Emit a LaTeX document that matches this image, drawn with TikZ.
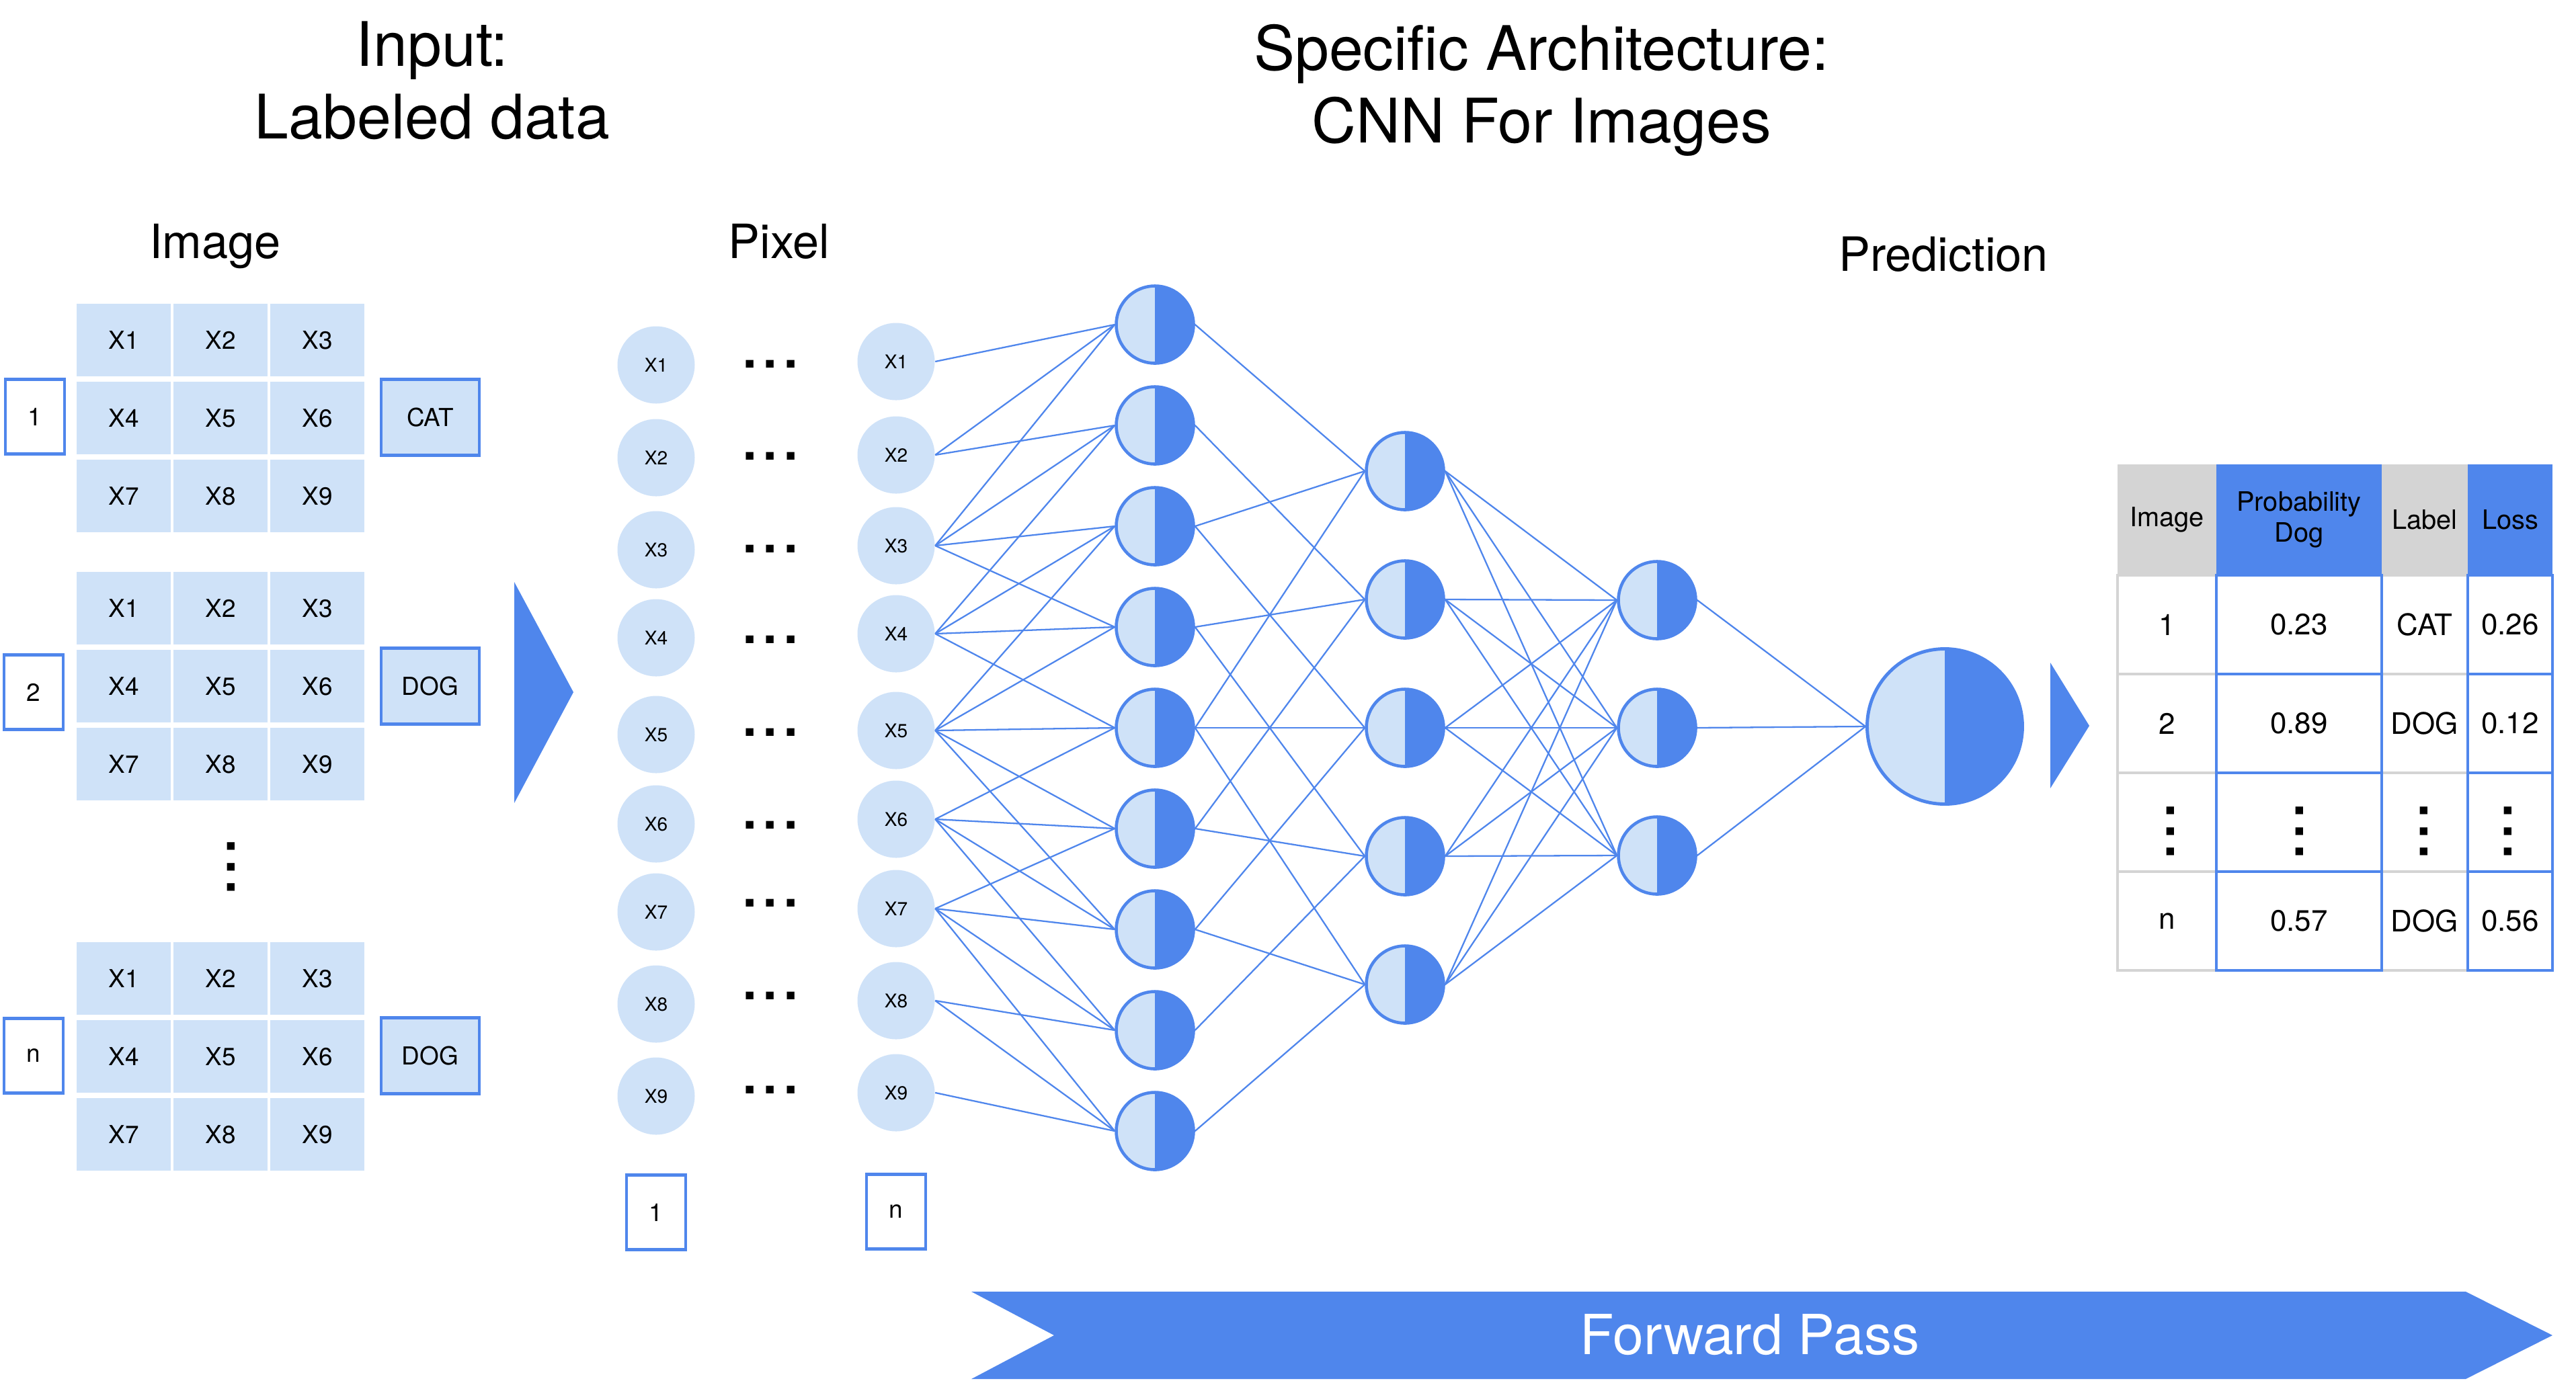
\documentclass[tikz,border=0pt]{standalone}
\usepackage{fontspec}
\setmainfont{TeX Gyre Heros}
\usepackage{tikz}
\usetikzlibrary{positioning}
\usepackage{xcolor}
\definecolor{cnnblue}{HTML}{4F86EC}
\definecolor{cnnlight}{HTML}{CFE2F8}
\definecolor{tablegray}{HTML}{D4D4D4}

\begin{document}
\begin{tikzpicture}[
    % Node styles
    cellbox/.style={rectangle, fill=cnnlight, minimum width=1.40cm, minimum height=1.08cm, inner sep=0pt, font=\fontsize{10.5}{12}\selectfont},
    indexbox/.style={rectangle, draw=cnnblue, line width=1.3pt, fill=white, minimum width=0.88cm, minimum height=1.11cm, inner sep=0pt, font=\fontsize{10.5}{12}\selectfont},
    labelbox/.style={indexbox, fill=cnnlight, minimum width=1.46cm, minimum height=1.13cm},
    pixel/.style={circle, fill=cnnlight, minimum size=1.15cm, inner sep=0pt, font=\fontsize{8}{9}\selectfont},
    neuron/.style={circle, draw=cnnblue, line width=1.3pt, fill=cnnlight, minimum size=1.15cm, inner sep=0pt,
        path picture={\fill[cnnblue] (path picture bounding box.north) rectangle (path picture bounding box.south east);}},
    conn/.style={draw=cnnblue, line width=0.65pt},
    title/.style={font=\fontsize{26}{30.7}\selectfont, align=center, inner sep=0pt},
    heading/.style={font=\fontsize{20}{24}\selectfont, anchor=base, inner sep=0pt},
    dots/.style={font=\fontsize{31}{36}\selectfont, inner sep=0pt},
    vdots/.style={dots, rotate=90},
    thead/.style={rectangle, minimum height=1.65cm, inner sep=0pt, align=center, font=\fontsize{11.3}{13}\selectfont},
    tgray/.style={rectangle, draw=tablegray, line width=1.1pt, fill=white, minimum height=1.47cm, inner sep=0pt, font=\fontsize{12.5}{14}\selectfont},
    tblue/.style={tgray, draw=cnnblue},
]
\useasboundingbox (0,0) rectangle (38.32,-20.54);

% Titles
\node[title] (titleInput) at (6.43,-1.195) {Input:\\Labeled data};
\node[title] (titleArch) at (22.93,-1.345) {Specific Architecture:\\CNN For Images};

% Column headings
\node[heading] (lblImage) at (3.20,-3.84) {Image};
\node[heading] (lblPixel) at (11.59,-3.84) {Pixel};
\node[heading] (lblPrediction) at (28.91,-4.03) {Prediction};

% Step 1: labeled images as 3x3 grids
\foreach \g/\top in {a/4.52, b/8.51, n/14.02} {
  \foreach \r in {0,1,2} {
    \foreach \c in {1,2,3} {
      \pgfmathtruncatemacro\k{3*\r+\c}
      \node[cellbox] (cell\g\k) at ({1.84+1.44*(\c-1)}, {-\top-0.54-1.16*\r}) {X\k};
    }
  }
}

% Image index and label
\node[indexbox] (idxa) at (0.52,-6.20) {1};
\node[indexbox] (idxb) at (0.50,-10.30) {2};
\node[indexbox] (idxn) at (0.50,-15.71) {n};
\node[labelbox] (laba) at (6.40,-6.21) {CAT};
\node[labelbox] (labb) at (6.40,-10.21) {DOG};
\node[labelbox] (labn) at (6.40,-15.71) {DOG};
\node[vdots] (gridDots) at (3.44,-12.90) {...};

% Arrow into the network
\fill[cnnblue] (7.65,-8.66) -- (8.53,-10.30) -- (7.65,-11.95) -- cycle;

% Step 2: pixels of image 1 ... image n
\foreach \i/\ya/\yb/\yd in {1/5.43/5.38/5.42, 2/6.81/6.77/6.79, 3/8.18/8.12/8.17, 4/9.49/9.43/9.52,
    5/10.93/10.87/10.90, 6/12.26/12.19/12.28, 7/13.57/13.52/13.44, 8/14.94/14.89/14.82, 9/16.31/16.26/16.22} {
  \node[pixel] (pa\i) at (9.76,-\ya) {X\i};
  \node[dots] (pdots\i) at (11.46,-\yd) {...};
  \node[pixel] (pn\i) at (13.33,-\yb) {X\i};
}
\node[indexbox] (pidxa) at (9.76,-18.04) {1};
\node[indexbox] (pidxn) at (13.33,-18.03) {n};

% Step 3: hidden layers
\foreach \i in {1,...,9} {
  \node[neuron] (h\i) at (17.18,{-4.83-1.5*(\i-1)}) {};
}
\foreach \i/\y in {1/7.01, 2/8.92, 3/10.83, 4/12.74, 5/14.65} {
  \node[neuron] (g\i) at (20.90,-\y) {};
}
\foreach \i/\y in {1/8.93, 2/10.83, 3/12.73} {
  \node[neuron] (k\i) at (24.65,-\y) {};
}
\node[neuron, minimum size=2.31cm, line width=1.4pt] (out) at (28.93,-10.81) {};

% Connections: pixels to first hidden layer
\foreach \s/\t in {1/1, 2/1, 2/2, 3/1, 3/2, 3/3, 3/4, 4/2, 4/3, 4/4, 4/5,
    5/3, 5/4, 5/5, 5/6, 5/7, 6/5, 6/6, 6/7, 6/8, 7/6, 7/7, 7/8, 7/9, 8/8, 8/9, 9/9} {
  \draw[conn] (pn\s.east) -- (h\t.west);
}

% Connections: first to second hidden layer
\foreach \s/\t in {1/1, 2/2, 3/1, 3/3, 4/2, 4/4, 5/1, 5/3, 5/5, 6/2, 6/4, 7/3, 7/5, 8/4, 9/5} {
  \draw[conn] (h\s.east) -- (g\t.west);
}

% Connections: second to third hidden layer (full)
\foreach \s in {1,...,5} {
  \foreach \t in {1,2,3} {
    \draw[conn] (g\s.east) -- (k\t.west);
  }
}
\foreach \s in {1,2,3} {
  \draw[conn] (k\s.east) -- (out.west);
}

% Arrow into the table
\fill[cnnblue] (30.50,-9.86) -- (31.08,-10.80) -- (30.50,-11.73) -- cycle;

% Step 4: prediction table
\node[thead, fill=tablegray, minimum width=1.47cm] (hImage) at (32.235,-7.735) {Image};
\node[thead, fill=cnnblue, minimum width=2.46cm] (hProb) at (34.20,-7.735) {Probability\\Dog};
\node[thead, fill=tablegray, minimum width=1.28cm] (hLabel) at (36.07,-7.735) {Label};
\node[thead, fill=cnnblue, minimum width=1.26cm] (hLoss) at (37.34,-7.735) {Loss};

\foreach \r/\y/\img/\prob/\lab/\loss in {1/9.295/1/0.23/CAT/0.26, 2/10.765/2/0.89/DOG/0.12,
    3/12.235/{}/{}/{}/{}, 4/13.705/n/0.57/DOG/0.56} {
  \node[tgray, minimum width=1.47cm] (tImage\r) at (32.235,-\y) {\img};
  \node[tgray, minimum width=1.28cm] (tLabel\r) at (36.07,-\y) {\lab};
  \node[tblue, minimum width=2.46cm] (tProb\r) at (34.20,-\y) {\prob};
  \node[tblue, minimum width=1.26cm] (tLoss\r) at (37.34,-\y) {\loss};
}
\foreach \x/\c in {32.29/a, 34.21/b, 36.06/c, 37.31/d} {
  \node[vdots] (tdots\c) at (\x,-12.37) {...};
}

% Forward pass banner
\fill[cnnblue] (14.45,-19.22) -- (36.68,-19.22) -- (37.97,-19.87) -- (36.68,-20.52) -- (14.45,-20.52) -- (15.68,-19.87) -- cycle;
\node[font=\fontsize{23.4}{28}\selectfont, text=white, anchor=base, inner sep=0pt] (fwd) at (26.03,-20.15) {Forward Pass};

\end{tikzpicture}
\end{document}
